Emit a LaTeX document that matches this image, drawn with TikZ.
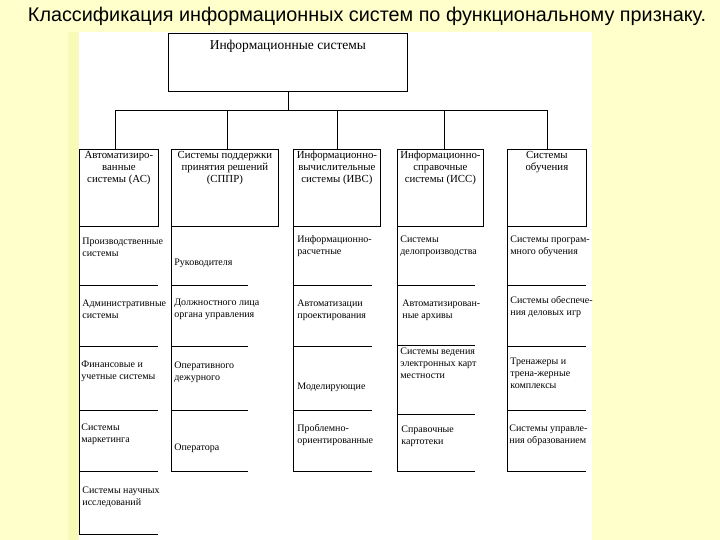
\documentclass[tikz,border=0pt]{standalone}
\usepackage{fontspec}
\setmainfont{Liberation Serif}
\newfontfamily\titlefont{Liberation Sans}
\definecolor{bgyellow}{RGB}{255,255,204}
\definecolor{stripyellow}{RGB}{250,250,184}
\begin{document}
\begin{tikzpicture}[x=1pt,y=-1pt,line width=0.8pt,
  lvlbox/.style={draw,rectangle,anchor=north west,inner sep=0pt,minimum height=77pt},
  boxtext/.style={anchor=north,align=center,inner sep=0pt,font=\fontsize{10.8}{12}\selectfont},
  itemtext/.style={anchor=north west,align=left,inner sep=0pt,font=\fontsize{10}{12}\selectfont},
  sep/.style={line width=0.8pt}]
\fill[bgyellow] (0,0) rectangle (720,540);
\useasboundingbox (0,0) rectangle (720,540);
\fill[stripyellow] (68,32) rectangle (79,540);
\fill[white] (79,32) rectangle (592,540);

% title
\node[anchor=center,inner sep=0pt] (title) at (367,16)
  {\resizebox{678pt}{!}{\titlefont Классификация информационных систем по функциональному признаку.}};

% top box
\node[draw,rectangle,anchor=north west,inner sep=0pt,minimum width=239pt,minimum height=58pt] (top) at (168,33) {};
\node[anchor=north,inner sep=0pt,font=\fontsize{13.5}{15}\selectfont] (toptext) at ([yshift=-6.5pt]top.north) {Информационные системы};

% level-2 boxes
\node[lvlbox,minimum width=79pt] (as) at (79,149) {};
\node[lvlbox,minimum width=107pt] (sppr) at (171,149) {};
\node[lvlbox,minimum width=87pt] (ivs) at (293,149) {};
\node[lvlbox,minimum width=86pt] (iss) at (397,149) {};
\node[lvlbox,minimum width=79pt] (obu) at (507,149) {};

\node[boxtext] (as-t) at ([yshift=-2pt]as.north) {Автоматизиро-\\ванные\\системы (АС)};
\node[boxtext] (sppr-t) at ([yshift=-2pt]sppr.north) {Системы поддержки\\принятия решений\\(СППР)};
\node[boxtext] (ivs-t) at ([yshift=-2pt]ivs.north) {Информационно-\\вычислительные\\системы (ИВС)};
\node[boxtext] (iss-t) at ([yshift=-2pt]iss.north) {Информационно-\\справочные\\системы (ИСС)};
\node[boxtext] (obu-t) at ([yshift=-2pt]obu.north) {Системы\\обучения};

% tree connectors
\coordinate (bar) at (0,110);
\draw (top.south) -- (top.south |- bar);
\draw ([xshift=-3.5pt]as.north |- bar) -- ([xshift=0.5pt]obu.north |- bar);
\draw ([xshift=-3.5pt]as.north) -- ([xshift=-3.5pt]as.north |- bar);
\draw ([xshift=2.5pt]sppr.north) -- ([xshift=2.5pt]sppr.north |- bar);
\draw ([xshift=0.5pt]ivs.north) -- ([xshift=0.5pt]ivs.north |- bar);
\draw ([xshift=4pt]iss.north) -- ([xshift=4pt]iss.north |- bar);
\draw ([xshift=0.5pt]obu.north) -- ([xshift=0.5pt]obu.north |- bar);

% column 1
\draw[sep] (as.south west) -- (79,534);
\foreach \yy in {285,346,410,471,534} \draw[sep] (79,\yy) -- (158,\yy);
\node[itemtext] (c1a) at (82,238) {Производственные\\системы};
\node[itemtext] (c1b) at (82,299) {Административные\\системы};
\node[itemtext] (c1c) at (81,361) {Финансовые и\\учетные системы};
\node[itemtext] (c1d) at (81,423) {Системы\\маркетинга};
\node[itemtext] (c1e) at (82,486) {Системы научных\\исследований};

% column 2
\draw[sep] (sppr.south west) -- (171,471);
\foreach \yy in {285,346,410,471} \draw[sep] (171,\yy) -- (248,\yy);
\node[itemtext] (c2a) at (174,259) {Руководителя};
\node[itemtext] (c2b) at (174,299) {Должностного лица\\органа управления};
\node[itemtext] (c2c) at (174,361) {Оперативного\\дежурного};
\node[itemtext] (c2d) at (174,443) {Оператора};

% column 3
\draw[sep] (ivs.south west) -- (293,471);
\foreach \yy in {285,346,410,471} \draw[sep] (293,\yy) -- (372,\yy);
\node[itemtext] (c3a) at (297,235) {Информационно-\\расчетные};
\node[itemtext] (c3b) at (297,299) {Автоматизации\\проектирования};
\node[itemtext] (c3c) at (297,383) {Моделирующие};
\node[itemtext] (c3d) at (297,424) {Проблемно-\\ориентированные};

% column 4
\draw[sep] (iss.south west) -- (397,471);
\foreach \yy in {285,345,414,471} \draw[sep] (397,\yy) -- (475,\yy);
\node[itemtext] (c4a) at (400,235) {Системы\\делопроизводства};
\node[itemtext] (c4b) at (402,299) {Автоматизирован-\\ные архивы};
\node[itemtext] (c4c) at (400,347) {Системы ведения\\электронных карт\\местности};
\node[itemtext] (c4d) at (401,425) {Справочные\\картотеки};

% column 5
\draw[sep] (obu.south west) -- (507,471);
\foreach \yy in {285,346,410,471} \draw[sep] (507,\yy) -- (586,\yy);
\node[itemtext] (c5a) at (510,235) {Системы програм-\\много обучения};
\node[itemtext] (c5b) at (510,296) {Системы обеспече-\\ния деловых игр};
\node[itemtext] (c5c) at (510,358) {Тренажеры и\\трена-жерные\\комплексы};
\node[itemtext] (c5d) at (509,424) {Системы управле-\\ния образованием};
\end{tikzpicture}
\end{document}
